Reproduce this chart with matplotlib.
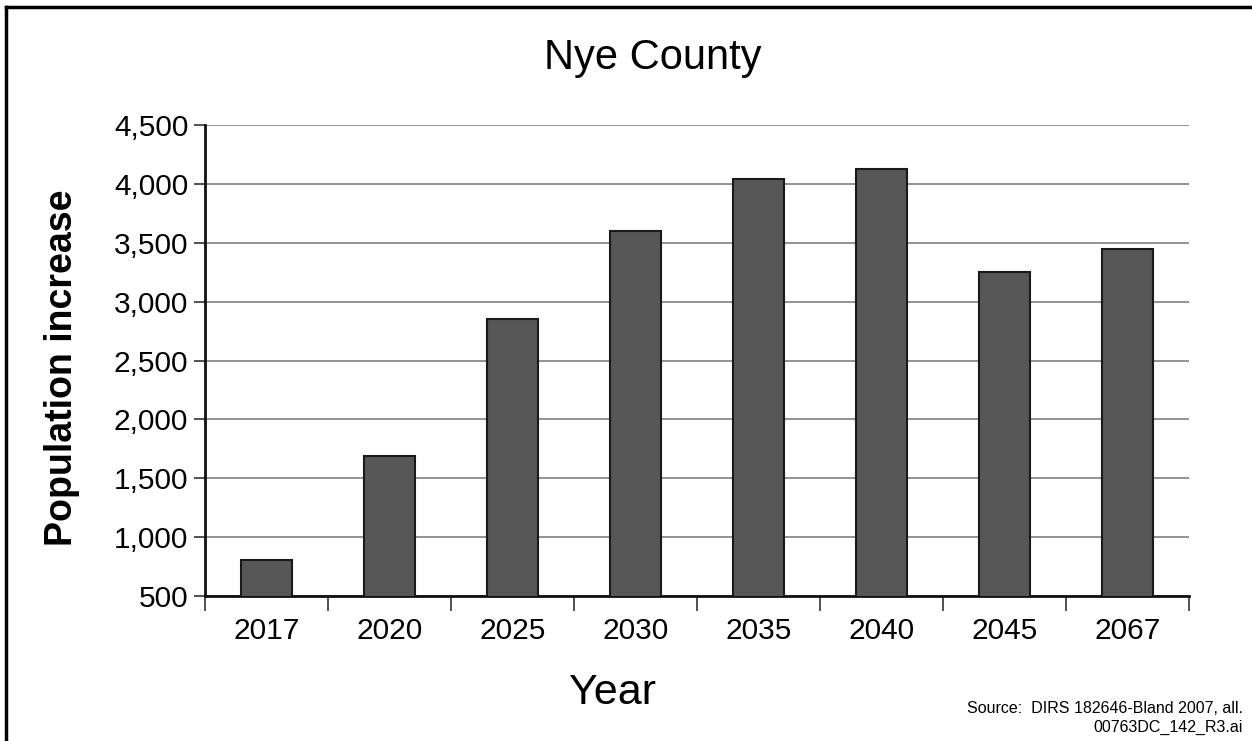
import matplotlib
matplotlib.use("Agg")
import matplotlib.pyplot as plt
from matplotlib.lines import Line2D
from matplotlib.ticker import FuncFormatter, FixedLocator

years = ["2017", "2020", "2025", "2030", "2035", "2040", "2045", "2067"]
values = [805, 1690, 2855, 3600, 4040, 4130, 3250, 3445]
yticks = [500, 1000, 1500, 2000, 2500, 3000, 3500, 4000, 4500]

W, H = 1252, 741
fig = plt.figure(figsize=(W / 100, H / 100), dpi=100)
ax = fig.add_axes([205 / W, 1 - 596 / H, (1189 - 205) / W, (596 - 125) / H])

narrow = ["Liberation Sans Narrow", "Liberation Sans", "DejaVu Sans"]
regular = ["Liberation Sans", "DejaVu Sans"]

x = list(range(len(years)))
ax.bar(x, values, width=0.42, color="#575757", edgecolor="#1a1a1a",
       linewidth=1.5, zorder=3)

ax.set_xlim(-0.5, len(years) - 0.5)
ax.set_ylim(500, 4500)
ax.set_yticks(yticks)
ax.yaxis.set_major_formatter(FuncFormatter(lambda v, p: f"{int(v):,}"))
ax.grid(axis="y", color="#8a8a8a", linewidth=1.3, zorder=0)
ax.set_axisbelow(True)

ax.set_xticks(x)
ax.set_xticklabels(years)
ax.xaxis.set_minor_locator(FixedLocator([i - 0.5 for i in range(len(years) + 1)]))
ax.tick_params(axis="x", which="major", length=0, pad=15)
ax.tick_params(axis="x", which="minor", length=11, width=1.2, color="#333333")
ax.tick_params(axis="y", length=8, width=1.2, pad=4, color="#333333")

for lab in ax.get_xticklabels() + ax.get_yticklabels():
    lab.set_fontfamily(narrow)
    lab.set_fontsize(21.5)

for s in ["top", "right"]:
    ax.spines[s].set_visible(False)
for s in ["left", "bottom"]:
    ax.spines[s].set_linewidth(2)
    ax.spines[s].set_color("#111111")

fig.text(653 / W, 1 - 68.5 / H, "Nye County", ha="center", va="baseline",
         fontsize=30, family=regular)
fig.text(612 / W, 1 - 704 / H, "Year", ha="center", va="baseline",
         fontsize=31, family=narrow)
fig.text(62 / W, 1 - 368 / H, "Population increase", rotation=90,
         ha="center", va="center", fontsize=27, fontweight="bold", family=regular)
fig.text(1243 / W, 1 - 713 / H, "Source:  DIRS 182646-Bland 2007, all.",
         ha="right", va="baseline", fontsize=11.5, family=regular)
fig.text(1243 / W, 1 - 731.5 / H, "00763DC_142_R3.ai",
         ha="right", va="baseline", fontsize=11.5, family=regular)

# frame lines (top and left)
fig.add_artist(Line2D([6 / W, 1], [1 - 6.5 / H, 1 - 6.5 / H], color="black",
                      linewidth=2.5, transform=fig.transFigure))
fig.add_artist(Line2D([6 / W, 6 / W], [0, 1 - 6.5 / H], color="black",
                      linewidth=2.5, transform=fig.transFigure))

fig.savefig("out.png", dpi=100)
